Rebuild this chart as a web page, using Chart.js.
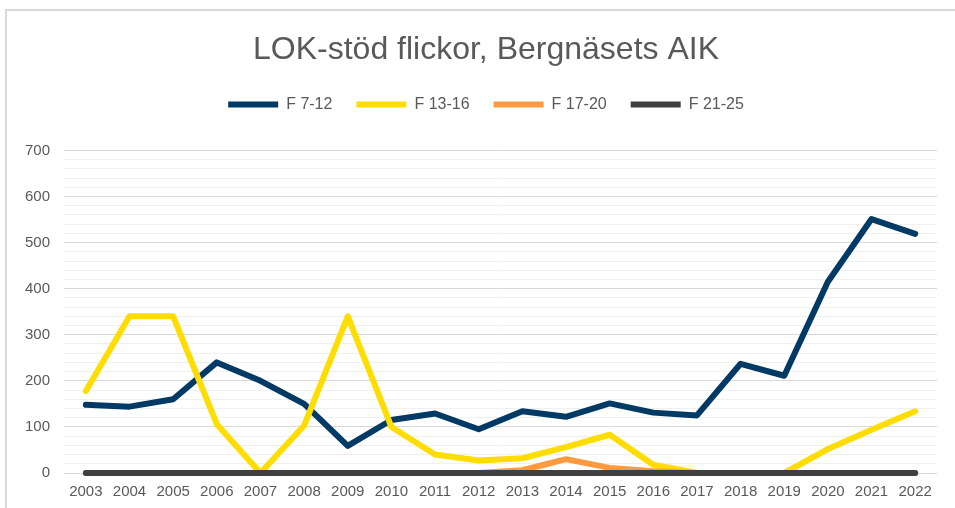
<!DOCTYPE html>
<html>
<head>
<meta charset="utf-8">
<script src="https://cdn.jsdelivr.net/npm/chart.js@4"></script>
<style>
    html, body { margin: 0; padding: 0; background: #ffffff; overflow: hidden; }
    #frame {
        position: absolute; left: 5px; top: 9px;
        width: 1000px; height: 1000px;
        border: 2px solid #d9d9d9; box-sizing: border-box;
    }
    #wrap { position: absolute; left: 0; top: 0; width: 975px; height: 508px; }
    canvas { display: block; }
</style>
</head>
<body>
<div id="frame"></div>
<div id="wrap"><canvas id="lokChart" width="975" height="508"></canvas></div>
<script>
// 年份
const years = ['2003', '2004', '2005', '2006', '2007', '2008', '2009', '2010', '2011', '2012',
               '2013', '2014', '2015', '2016', '2017', '2018', '2019', '2020', '2021', '2022'];

// 各年龄组数据
const f7to12  = [148, 144, 160, 240, 200, 150, 59, 115, 129, 95, 134, 122, 151, 131, 125, 237, 211, 415, 551, 519];
const f13to16 = [178, 340, 340, 106, 0, 103, 340, 100, 40, 27, 32, 56, 83, 18, 0, 0, 0, 52, 94, 134];
const f17to20 = [0, 0, 0, 0, 0, 0, 0, 0, 0, 0, 6, 30, 11, 4, 0, 0, 0, 0, 0, 0];
const f21to25 = [0, 0, 0, 0, 0, 0, 0, 0, 0, 0, 0, 0, 0, 0, 0, 0, 0, 0, 0, 0];

const seriesNames = ['F 7-12', 'F 13-16', 'F 17-20', 'F 21-25'];
const seriesColors = ['#023a66', '#ffdd00', '#ff9a40', '#404040'];

const textGray = '#595959';
const fontFamily = '"Liberation Sans", Arial, sans-serif';

// 后面的系列画在上层 (和原图一致)
function makeDataset(label, data, color, order) {
    return {
        label: label,
        data: data,
        borderColor: color,
        backgroundColor: color,
        borderWidth: 6,
        borderCapStyle: 'round',
        borderJoinStyle: 'round',
        pointRadius: 0,
        pointHoverRadius: 0,
        tension: 0,
        fill: false,
        clip: 8,
        order: order
    };
}

const ctx = document.getElementById('lokChart');

new Chart(ctx, {
    type: 'line',
    data: {
        labels: years,
        datasets: [
            makeDataset(seriesNames[0], f7to12, seriesColors[0], 3),
            makeDataset(seriesNames[1], f13to16, seriesColors[1], 2),
            makeDataset(seriesNames[2], f17to20, seriesColors[2], 1),
            makeDataset(seriesNames[3], f21to25, seriesColors[3], 0)
        ]
    },
    options: {
        responsive: false,
        animation: false,
        layout: {
            padding: { top: 10, left: 11, right: 14, bottom: -3 }
        },
        plugins: {
            title: {
                display: true,
                text: 'LOK-stöd flickor, Bergnäsets AIK',
                color: textGray,
                font: { family: fontFamily, size: 32, weight: 'normal', lineHeight: 1.2 },
                padding: { top: 21, bottom: 3 }
            },
            // 空白副标题, 放在图例下面当作间距
            subtitle: {
                display: true,
                text: ' ',
                weight: 500,
                font: { size: 10, lineHeight: 1 },
                padding: { top: 18, bottom: 0 }
            },
            legend: {
                display: true,
                position: 'top',
                labels: {
                    color: textGray,
                    font: { family: fontFamily, size: 16 },
                    usePointStyle: true,
                    pointStyle: 'line',
                    pointStyleWidth: 50,
                    padding: 24,
                    sort: (a, b) => a.datasetIndex - b.datasetIndex
                }
            },
            tooltip: { enabled: false }
        },
        scales: {
            x: {
                offset: true,
                grid: { display: false, drawTicks: false },
                border: { display: false },
                ticks: {
                    color: textGray,
                    font: { family: fontFamily, size: 15 },
                    padding: 10,
                    maxRotation: 0,
                    autoSkip: false
                }
            },
            y: {
                min: 0,
                max: 700,
                grid: {
                    drawTicks: false,
                    lineWidth: 1,
                    color: function(context) {
                        return context.tick && context.tick.value % 100 === 0 ? '#d9d9d9' : '#f0f0f0';
                    }
                },
                border: { display: false },
                ticks: {
                    stepSize: 20,
                    autoSkip: false,
                    color: textGray,
                    font: { family: fontFamily, size: 15 },
                    padding: 14,
                    callback: function(value) {
                        return value % 100 === 0 ? value : '';
                    }
                }
            },
            // 右边空轴, 只占位置
            ySpacer: {
                type: 'linear',
                position: 'right',
                display: true,
                grid: { display: false, drawTicks: false },
                border: { display: false },
                ticks: { display: false },
                afterFit: function(scale) {
                    scale.width = 24;
                }
            }
        }
    }
});
</script>
</body>
</html>
